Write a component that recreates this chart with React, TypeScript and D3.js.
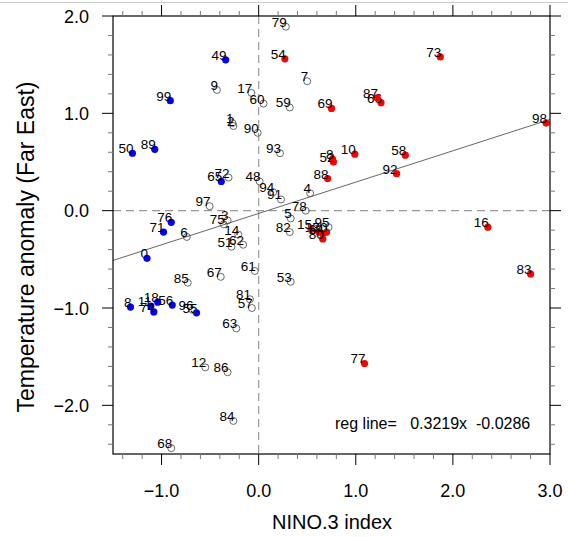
import * as d3 from "d3";

// year labels (mod 100), NINO.3 index, temperature anomaly
const years = [
  "0", "1", "2", "3", "4", "5", "6", "7", "8", "9",
  "10", "11", "12", "13", "14", "15", "16", "17", "18", "8",
  "48", "49", "50", "51", "52", "53", "54", "55", "56", "57",
  "58", "59", "60", "61", "62", "63", "64", "65", "66", "67",
  "68", "69", "70", "71", "72", "73", "74", "75", "76", "77",
  "78", "79", "80", "81", "82", "83", "84", "85", "86", "87",
  "88", "89", "90", "91", "92", "93", "94", "95", "96", "97",
  "98", "99",
];
const nino = [
  -1.15, -0.27, -0.26, -0.32, 0.53, 0.33, -0.74, 0.5, -1.32, -0.43,
  0.99, -1.11, -0.55, 0.62, -0.21, 0.54, 2.36, -0.075, -1.04, 0.76,
  0.01, -0.34, -1.3, -0.28, 0.77, 0.33, 0.27, -0.64, -0.89, -0.07,
  1.51, 0.32, 0.05, -0.04, -0.16, -0.23, 0.66, -0.385, 1.26, -0.39,
  -0.9, 0.75, 0.7, -0.98, -0.31, 1.87, -1.08, -0.36, -0.9, 1.09,
  0.485, 0.28, 0.66, -0.09, 0.32, 2.8, -0.26, -0.73, -0.32, 1.22,
  0.71, -1.07, -0.01, 0.23, 1.42, 0.22, 0.15, 0.72, -0.68, -0.505,
  2.96, -0.91,
];
const temp = [
  -0.49, 0.9, 0.87, -0.1, 0.18, -0.08, -0.27, 1.33, -0.99, 1.24,
  0.58, -0.98, -1.61, -0.22, -0.245, -0.19, -0.17, 1.21, -0.94, 0.53,
  0.3, 1.55, 0.59, -0.37, 0.5, -0.73, 1.56, -1.05, -0.97, -1.0,
  0.57, 1.06, 1.1, -0.62, -0.35, -1.21, -0.235, 0.3, 1.11, -0.68,
  -2.44, 1.05, -0.22, -0.22, 0.34, 1.58, -1.04, -0.14, -0.12, -1.57,
  0.0, 1.89, -0.29, -0.91, -0.22, -0.65, -2.16, -0.74, -1.66, 1.16,
  0.33, 0.63, 0.8, 0.115, 0.38, 0.59, 0.19, -0.17, -1.02, 0.046,
  0.9, 1.13,
];
// marker class: b = blue filled, r = red filled, o = open
const kind = [
  "b", "o", "o", "o", "o", "o", "o", "o", "b", "o",
  "r", "b", "o", "r", "o", "r", "r", "o", "b", "r",
  "o", "b", "b", "o", "r", "o", "r", "b", "b", "o",
  "r", "o", "o", "o", "o", "o", "r", "b", "r", "o",
  "o", "r", "r", "b", "o", "r", "b", "o", "b", "r",
  "o", "o", "r", "o", "o", "r", "o", "o", "o", "r",
  "r", "b", "o", "o", "r", "o", "o", "o", "o", "o",
  "r", "b",
];

const slope = 0.3219;
const intercept = -0.0286;
const xMajor = [-1, 0, 1, 2, 3];
const yMajor = [2, 1, 0, -1, -2];

const W = 568;
const H = 537;
const FONT = "'Liberation Sans', Arial, Helvetica, sans-serif";

export default function App() {
  const x = d3.scaleLinear().domain([-1.5, 3]).range([113, 550]);
  const y = d3.scaleLinear().domain([-2.5, 2]).range([454, 16]);
  const [x0, x1] = x.range();
  const [y0, y1] = y.range();

  const xMinor = d3.range(-14, 31, 2).map((d) => d / 10).filter((d) => !xMajor.includes(d));
  const yMinor = d3.range(-24, 21, 2).map((d) => d / 10).filter((d) => !yMajor.includes(d));
  const fmt = d3.format(".1f");

  const pts = years.map((lab, i) => ({ lab, cx: x(nino[i]), cy: y(temp[i]), k: kind[i] }));
  const reg = d3.line<number>().x((d) => x(d)).y((d) => y(slope * d + intercept));

  return (
    <svg
      width={W}
      height={H}
      style={{ position: "absolute", left: 0, top: 0, background: "#fff" }}
      fontFamily={FONT}
    >
      <line x1={0} x2={W} y1={2.5} y2={2.5} stroke="#ccc" />

      {/* zero lines */}
      <line x1={x(0)} x2={x(0)} y1={y1} y2={y0} stroke="#999" strokeWidth={1.2} strokeDasharray="8,5" />
      <line x1={x0} x2={x1} y1={y(0)} y2={y(0)} stroke="#999" strokeWidth={1.2} strokeDasharray="8,5" />

      {/* regression line */}
      <path d={reg([-1.5, 3]) ?? ""} fill="none" stroke="#555" strokeWidth={0.9} />

      {pts.map((p, i) => (
        <g key={i}>
          {p.k === "o" ? (
            <circle cx={p.cx} cy={p.cy} r={3.5} fill="none" stroke="#444" strokeWidth={0.8} />
          ) : (
            <circle cx={p.cx} cy={p.cy} r={3.6} fill={p.k === "b" ? "#0000ff" : "#ff0000"} />
          )}
          <text x={p.cx + 1} y={p.cy} textAnchor="end" fontSize={13.5} fill="#000">
            {p.lab}
          </text>
        </g>
      ))}

      {/* frame */}
      <rect x={x0} y={y1} width={x1 - x0} height={y0 - y1} fill="none" stroke="#000" strokeWidth={1.2} />

      {/* x ticks */}
      {xMinor.map((d) => (
        <g key={"xm" + d} stroke="#777">
          <line x1={x(d)} x2={x(d)} y1={y0} y2={y0 + 5} />
          <line x1={x(d)} x2={x(d)} y1={y1} y2={y1 - 5} />
        </g>
      ))}
      {xMajor.map((d) => (
        <g key={"xM" + d}>
          <line x1={x(d)} x2={x(d)} y1={y0} y2={y0 + 11} stroke="#000" />
          <line x1={x(d)} x2={x(d)} y1={y1} y2={y1 - 11} stroke="#000" />
          <text x={x(d)} y={497} textAnchor="middle" fontSize={18}>
            {fmt(d)}
          </text>
        </g>
      ))}

      {/* y ticks */}
      {yMinor.map((d) => (
        <g key={"ym" + d} stroke="#777">
          <line x1={x0} x2={x0 - 5} y1={y(d)} y2={y(d)} />
          <line x1={x1} x2={x1 + 5} y1={y(d)} y2={y(d)} />
        </g>
      ))}
      {yMajor.map((d) => (
        <g key={"yM" + d}>
          <line x1={x0} x2={x0 - 11} y1={y(d)} y2={y(d)} stroke="#000" />
          <line x1={x1} x2={x1 + 11} y1={y(d)} y2={y(d)} stroke="#000" />
          <text x={89} y={y(d) + 6.5} textAnchor="end" fontSize={18}>
            {fmt(d)}
          </text>
        </g>
      ))}

      <text x={335} y={429} fontSize={16}>
        reg line=&#160;&#160;&#160;{slope.toFixed(4)}x&#160;&#160;{intercept.toFixed(4)}
      </text>

      <text x={332} y={529} textAnchor="middle" fontSize={20}>
        NINO.3 index
      </text>
      <text
        transform={`translate(34, ${(y0 + y1) / 2 + 12}) rotate(-90)`}
        textAnchor="middle"
        fontSize={23}
      >
        Temperature anomaly (Far East)
      </text>
    </svg>
  );
}
